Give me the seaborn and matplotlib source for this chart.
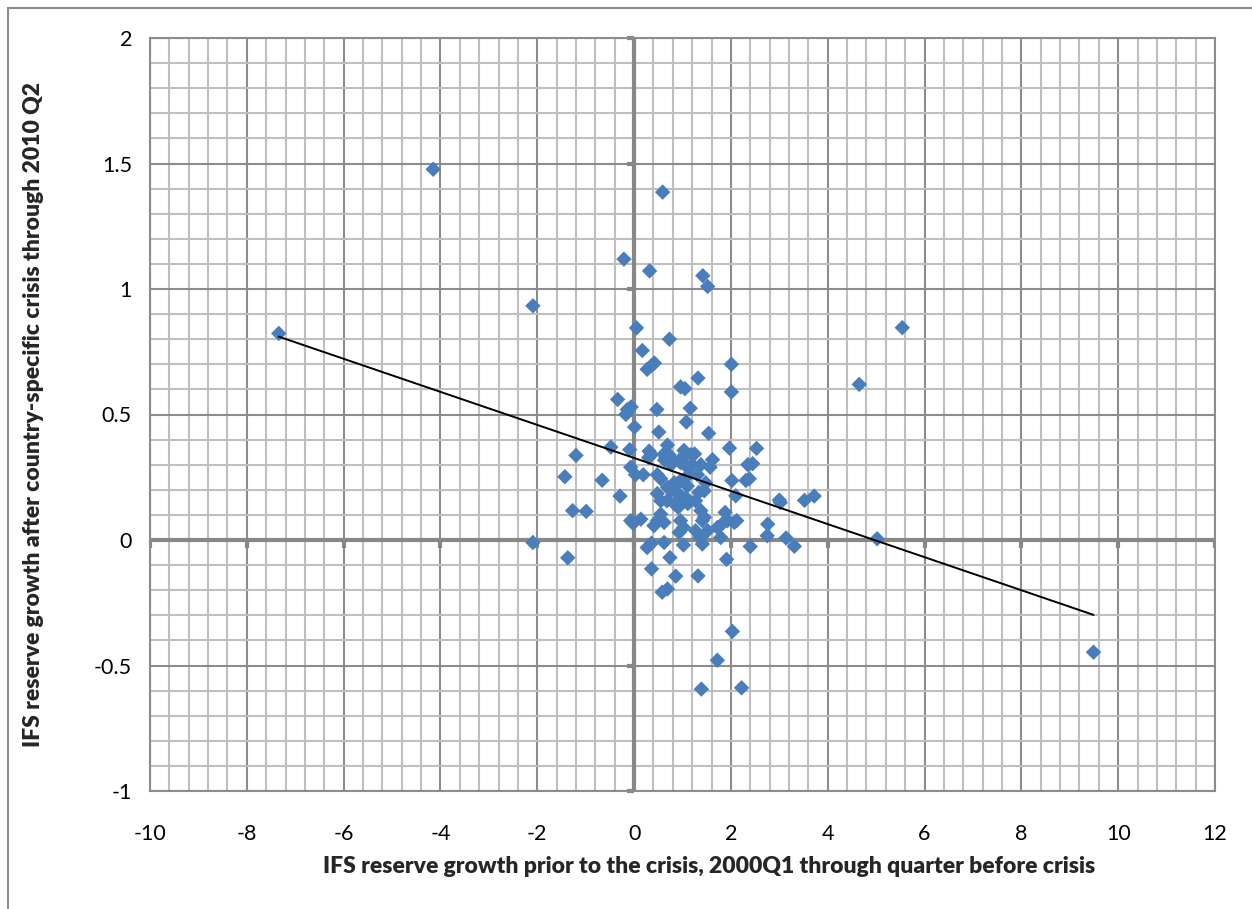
import numpy as np
import pandas as pd
import matplotlib
matplotlib.use("Agg")
import matplotlib.pyplot as plt
from matplotlib.patches import Rectangle
import seaborn as sns

# ---- data ----
x_growth_before = [
    -7.34, -4.15, -2.09, -0.21, 0.59, 0.32, 1.42, 1.52, 5.54, 4.65, 9.49, 5.02,
    -2.09, -1.37, 2.03, 1.72, 1.39, 2.22,
    0.05, 0.73, 0.17, 0.27, 0.36, 0.42, 2.01, 1.32, 0.96, 1.05, 2.01, -0.34,
    -0.14, -0.06, -0.17, 0.47, 1.16, 1.08, 0.01, 0.51, 1.54, -0.48, -0.09, -1.20,
    1.97, 2.53, 0.69,
    0.31, 0.36, 0.30, 0.62, 0.72, 1.03, 1.17, 1.25, 0.82, 0.96, 0.63, 1.62,
    1.57, 1.38, 2.35, 2.45, 2.31, 2.38, 2.02, 2.10, 3.00, 3.02, 3.52, 3.72,
    -0.07, 0.03, 0.19, -0.66, -1.43, -0.29, -1.27, -0.99, -0.07, 0.14, -0.02,
    0.48, 0.55, 0.69, 0.48, 0.76, 0.83, 0.96, 1.07, 1.00, 1.11, 0.68, 0.89,
    1.10, 1.34, 1.45, 1.38, 1.41, 0.91, 0.96, 1.02, 0.93, 0.48, 0.55, 0.62,
    0.41, 1.27, 1.52, 1.72, 1.83, 2.07, 2.12, 1.88, 2.76, 2.75, 3.14, 3.31,
    2.40, 1.79, 1.36, 1.41, 1.02, 0.62, 0.36, 0.27, 0.74, 0.36, 0.86, 1.32,
    1.91, 0.58, 0.69,
    0.65, 0.76, 1.00, 1.07, 1.20, 1.13, 1.31, 1.48, 0.55, 1.27, 0.83, 1.45, 1.93,
]
y_growth_after = [
    0.823, 1.477, 0.933, 1.119, 1.386, 1.072, 1.053, 1.010, 0.846, 0.620, -0.447, 0.005,
    -0.010, -0.071, -0.364, -0.479, -0.594, -0.589,
    0.845, 0.800, 0.755, 0.680, 0.695, 0.705, 0.700, 0.645, 0.610, 0.603, 0.590, 0.560,
    0.520, 0.530, 0.500, 0.520, 0.525, 0.470, 0.450, 0.430, 0.425, 0.370, 0.360, 0.337,
    0.366, 0.365, 0.378,
    0.354, 0.340, 0.328, 0.343, 0.340, 0.357, 0.340, 0.343, 0.315, 0.308, 0.318, 0.320,
    0.290, 0.300, 0.300, 0.304, 0.237, 0.244, 0.237, 0.176, 0.159, 0.149, 0.158, 0.175,
    0.290, 0.260, 0.260, 0.238, 0.252, 0.175, 0.117, 0.114, 0.077, 0.083, 0.066,
    0.260, 0.244, 0.210, 0.185, 0.196, 0.228, 0.237, 0.169, 0.156, 0.145, 0.156, 0.190,
    0.215, 0.190, 0.196, 0.117, 0.077, 0.130, 0.077, 0.050, 0.030, 0.077, 0.103, 0.070,
    0.057, 0.037, 0.037, 0.050, 0.066, 0.070, 0.077, 0.110, 0.063, 0.017, 0.008, -0.025,
    -0.026, 0.010, 0.010, -0.016, -0.020, -0.010, -0.013, -0.030, -0.070, -0.115, -0.144, -0.143,
    -0.077, -0.208, -0.195,
    0.330, 0.300, 0.330, 0.295, 0.300, 0.260, 0.260, 0.228, 0.156, 0.156, 0.145, 0.090, 0.077,
]

x_ticks = [-10, -8, -6, -4, -2, 0, 2, 4, 6, 8, 10, 12]
y_ticks = [-1, -0.5, 0, 0.5, 1, 1.5, 2]
y_tick_labels = ["-1", "-0.5", "0", "0.5", "1", "1.5", "2"]

x_label = "IFS reserve growth prior to the crisis, 2000Q1 through quarter before crisis"
y_label = "IFS reserve growth after country-specific crisis through 2010 Q2"
fig_title = "Figure 4: Reserve growth before and after the crisis (countries with a country-specific crisis only)"

df = pd.DataFrame({"before": x_growth_before, "after": y_growth_after})

# ---- style ----
sns.set_theme(style="white")
plt.rcParams["font.family"] = ["Lato", "DejaVu Sans"]
plt.rcParams["axes.unicode_minus"] = False

fig = plt.figure(figsize=(12.52, 9.09), dpi=100)
ax = fig.add_axes([150 / 1252, 1 - 791 / 909, (1215 - 150) / 1252, (791 - 38) / 909])

minor_c = "#BFBFBF"
major_c = "#8C8C8C"
axis_c = "#878787"

ax.set_xlim(-10, 12)
ax.set_ylim(-1, 2)
ax.set_xticks(x_ticks)
ax.set_yticks(y_ticks)
ax.set_yticklabels(y_tick_labels)
ax.set_xticks(np.arange(-10, 12.01, 0.4), minor=True)
ax.set_yticks(np.arange(-1, 2.001, 0.1), minor=True)
ax.grid(which="minor", color=minor_c, linewidth=1.5, zorder=0)
ax.grid(which="major", color=major_c, linewidth=1.5, zorder=0)
ax.set_axisbelow(True)
ax.tick_params(which="both", length=0, labelsize=15.5, colors="black")
ax.tick_params(axis="x", pad=24)
ax.tick_params(axis="y", pad=13)
for s in ax.spines.values():
    s.set_color(major_c)
    s.set_linewidth(1.5)

# zero axes with tick stubs
ax.axhline(0, color=axis_c, linewidth=3, zorder=1)
ax.axvline(0, color=axis_c, linewidth=3, zorder=1)
stub_x = 0.03
stub_y = 0.15
for xt in x_ticks:
    ax.plot([xt, xt], [0, -stub_x], color=axis_c, linewidth=3, zorder=1,
            solid_capstyle="butt")
for yt in y_ticks:
    ax.plot([0, -stub_y], [yt, yt], color=axis_c, linewidth=3, zorder=1,
            solid_capstyle="butt", clip_on=False)

# scatter + linear trendline
sns.regplot(data=df, x="before", y="after", ax=ax, ci=None, truncate=True,
            marker="D",
            scatter_kws=dict(s=62, color="#4A7EBB", edgecolor="none", zorder=3, alpha=1),
            line_kws=dict(color="black", linewidth=1.4, zorder=4))

ax.set_xlabel(x_label, fontsize=16.5, fontweight="heavy")
ax.set_ylabel(y_label, fontsize=16.5, fontweight="heavy", labelpad=36)
ax.xaxis.set_label_coords(0.525, -0.086)

# outer chart border and clipped caption
fig.patches.append(Rectangle((8 / 1252, -0.1), 1.2, 1 - 8 / 909 + 0.1,
                             transform=fig.transFigure, fill=False,
                             edgecolor="#8C8C8C", linewidth=1.5))
fig.text(10 / 1252, 1 + 8 / 909, fig_title, fontsize=14, fontweight="bold",
         ha="left", va="baseline")

fig.savefig("out.png", dpi=100)
